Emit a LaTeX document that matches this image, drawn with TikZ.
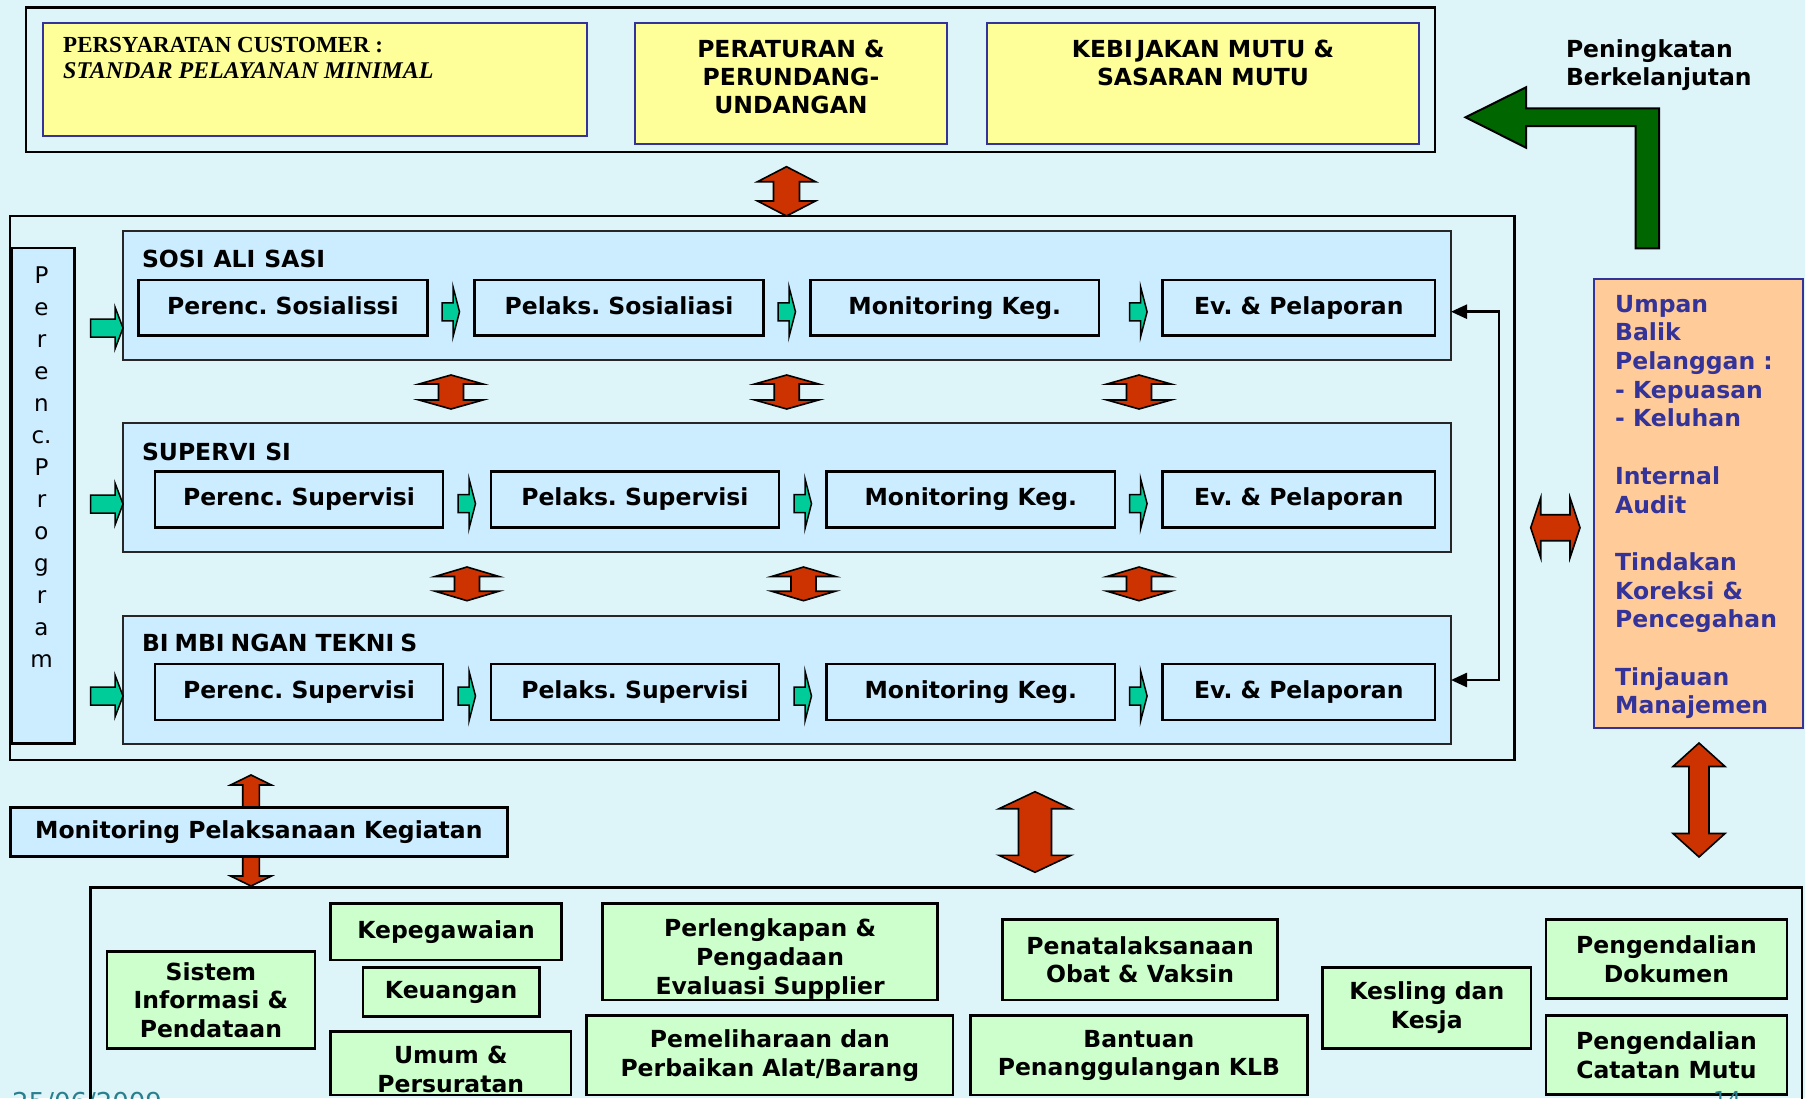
\documentclass[tikz,border=0pt]{standalone}
\usepackage{fontspec}
\setmainfont{DejaVu Sans}
\newfontfamily\serifb{Liberation Serif}
\usetikzlibrary{arrows.meta}
\frenchspacing
\definecolor{bgc}{HTML}{DDF4F8}
\definecolor{panelc}{HTML}{CCECFF}
\definecolor{yelc}{HTML}{FFFF99}
\definecolor{bluec}{HTML}{333399}
\definecolor{greenc}{HTML}{CCFFCC}
\definecolor{orangec}{HTML}{FFCC99}
\definecolor{redc}{HTML}{CC3300}
\definecolor{tealc}{HTML}{00CC99}
\definecolor{dgreen}{HTML}{006600}
\definecolor{datec}{HTML}{2A7F8E}
\newcommand\fs{\fontsize{23.5}{28.7}\selectfont}
\newcommand\bx[7]{\node[#1, minimum width={#5-#3}, minimum height={#6-#4}, anchor=north west] (#2) at (#3,#4) {#7};}
\newcommand\vda[6]{\draw[redarr] (#1,#2) -- ({#1+#4},{#2+#6}) -- ({#1+#5},{#2+#6}) -- ({#1+#5},{#3-#6}) -- ({#1+#4},{#3-#6}) -- (#1,#3) -- ({#1-#4},{#3-#6}) -- ({#1-#5},{#3-#6}) -- ({#1-#5},{#2+#6}) -- ({#1-#4},{#2+#6}) -- cycle;}
\newcommand\hda[6]{\draw[redarr] (#2,#1) -- ({#2+#6},{#1-#4}) -- ({#2+#6},{#1-#5}) -- ({#3-#6},{#1-#5}) -- ({#3-#6},{#1-#4}) -- (#3,#1) -- ({#3-#6},{#1+#4}) -- ({#3-#6},{#1+#5}) -- ({#2+#6},{#1+#5}) -- ({#2+#6},{#1+#4}) -- cycle;}
\newcommand\sma[2]{\draw[tealarr] (#1,{#2-9}) -- ({#1+11},{#2-9}) -- ({#1+11},{#2-25}) -- ({#1+17.5},#2) -- ({#1+11},{#2+25}) -- ({#1+11},{#2+9}) -- (#1,{#2+9}) -- cycle;}
\newcommand\ena[1]{\draw[tealarr] (90.7,{#1-9}) -- (115,{#1-9}) -- (115,{#1-21}) -- (123,#1) -- (115,{#1+21}) -- (115,{#1+9}) -- (90.7,{#1+9}) -- cycle;}
\begin{document}
\begin{tikzpicture}[x=1pt,y=-1pt,
  outerbox/.style={draw=black, line width=2.5pt, inner sep=0pt, outer sep=0pt},
  ybox/.style={outerbox, fill=yelc, draw=bluec, line width=2pt},
  panel/.style={outerbox, fill=panelc, line width=2pt, draw=black!85},
  progbox/.style={outerbox, fill=panelc},
  sbox/.style={outerbox, fill=panelc, font=\fs\bfseries, text height=17.9pt, text depth=5.5pt},
  gbox/.style={outerbox, fill=greenc, font=\fs\bfseries, align=center},
  gbox1/.style={gbox, text height=17.9pt, text depth=5.5pt},
  obox/.style={outerbox, fill=orangec, draw=bluec, line width=2pt},
  txt/.style={inner sep=0pt, outer sep=0pt, font=\fs\bfseries, align=center},
  redarr/.style={fill=redc, draw=black, line width=1.6pt, line join=miter},
  tealarr/.style={fill=tealc, draw=black, line width=1.5pt, line join=miter},
  fbline/.style={draw=black, line width=2.5pt, {Triangle[length=16pt,width=14pt]}-{Triangle[length=16pt,width=14pt]}}
]
\fill[bgc] (0,0) rectangle (1805,1098);
\useasboundingbox (0,0) rectangle (1805,1098);

% ---------- top section ----------
\bx{outerbox}{topbox}{26}{7.5}{1435}{152}{}
\bx{ybox}{cust}{42.5}{23.3}{587}{136.3}{}
\node[anchor=north west, inner sep=0pt, align=left, font=\serifb\bfseries\fontsize{23}{26}\selectfont] (custt) at (63,37.5) {PERSYARATAN CUSTOMER :\\\fontsize{24}{26}\selectfont\itshape STANDAR PELAYANAN MINIMAL};
\bx{ybox}{perat}{635}{23.3}{947}{144.3}{}
\node[txt, anchor=north, font=\fontsize{23.5}{28}\selectfont\bfseries] (peratt) at (791,40.5) {PERATURAN \&\\PERUNDANG-\\UNDANGAN};
\bx{ybox}{kebij}{986.6}{23.3}{1419}{144.3}{}
\node[txt, anchor=north, font=\fontsize{23.5}{28}\selectfont\bfseries] (kebijt) at (1203,40.5) {KEBI\kern4pt JAKAN MUTU \&\\SASARAN MUTU};
\node[txt, anchor=north west, align=left, font=\fontsize{23.5}{28}\selectfont\bfseries] (pening) at (1566,40) {Peningkatan\\Berkelanjutan};
\draw[fill=dgreen, draw=black, line width=2pt, line join=miter] (1465.5,117.3) -- (1526,87.3) -- (1526,108.3) -- (1659,108.3) -- (1659,248.3) -- (1635.6,248.3) -- (1635.6,126) -- (1526,126) -- (1526,147.7) -- cycle;
\vda{786.5}{166.7}{216}{29}{13}{15}

% ---------- middle section ----------
\bx{outerbox}{midbox}{10}{216}{1514.5}{760}{}
\bx{progbox}{prog}{11.5}{248}{74.6}{743.3}{}
\node[anchor=north, inner sep=0pt, align=center, font=\fontsize{23}{32}\selectfont] (progt) at (41.5,266.5) {P\\e\\r\\e\\n\\c.\\P\\r\\o\\g\\r\\a\\m};

\bx{panel}{sos}{123}{231}{1451}{360}{}
\bx{panel}{sup}{123}{423.3}{1451}{552.3}{}
\bx{panel}{bim}{123}{615.7}{1451}{744.3}{}
\node[txt, anchor=base west] (sost) at (142,267.3) {SOSI\kern9pt ALI\kern9pt SASI\kern4pt};
\node[txt, anchor=base west] (supt) at (142,460) {SUPERVI\kern9pt SI};
\node[txt, anchor=base west] (bimt) at (142,651.7) {BI\kern6pt MBI\kern6pt NGAN TEKNI\kern6pt S};

\bx{sbox}{s1}{138.5}{280}{427.5}{335.7}{Perenc. Sosialissi}
\bx{sbox}{s2}{474.7}{280}{763.4}{335.7}{Pelaks. Sosialiasi}
\bx{sbox}{s3}{810.5}{280}{1099}{335.7}{Monitoring Keg.}
\bx{sbox}{s4}{1162.5}{280}{1435}{335.7}{Ev. \& Pelaporan}

\bx{sbox}{p1}{155}{471.7}{443}{527.3}{Perenc. Supervisi}
\bx{sbox}{p2}{490.8}{471.7}{779}{527.3}{Pelaks. Supervisi}
\bx{sbox}{p3}{826.6}{471.7}{1115}{527.3}{Monitoring Keg.}
\bx{sbox}{p4}{1162.5}{471.7}{1435}{527.3}{Ev. \& Pelaporan}

\bx{sbox}{b1}{155}{664}{443}{720}{Perenc. Supervisi}
\bx{sbox}{b2}{490.8}{664}{779}{720}{Pelaks. Supervisi}
\bx{sbox}{b3}{826.6}{664}{1115}{720}{Monitoring Keg.}
\bx{sbox}{b4}{1162.5}{664}{1435}{720}{Ev. \& Pelaporan}

\ena{328}
\ena{504}
\ena{696}
\sma{442}{311.8}
\sma{778}{311.8}
\sma{1129.6}{311.8}
\sma{458}{503.7}
\sma{794}{503.7}
\sma{1129.6}{503.7}
\sma{458}{696}
\sma{794}{696}
\sma{1129.6}{696}

\vda{451}{375}{409}{32}{12.5}{9}
\vda{786.7}{375}{409}{32}{12.5}{9}
\vda{1139}{375}{409}{32}{12.5}{9}
\vda{467}{567}{600.7}{32}{12.5}{9.5}
\vda{803.5}{567}{600.7}{32}{12.5}{9.5}
\vda{1139}{567}{600.7}{32}{12.5}{9.5}

\coordinate (fbtop) at (1499,311.7);
\coordinate (fbbot) at (1499,680);
\draw[fbline] (sos.east |- fbtop) -- (fbtop) -- (fbbot) -- (bim.east |- fbbot);

% ---------- right column ----------
\bx{obox}{umpan}{1594.3}{279.3}{1803}{728.3}{}
\node[anchor=north west, inner sep=0pt, align=left, text=bluec, font=\fs\bfseries] (umpant) at (1615,294.8) {Umpan\\Balik\\Pelanggan :\\- Kepuasan\\- Keluhan\\\mbox{}\\Internal\\Audit\\\mbox{}\\Tindakan\\Koreksi \&\\Pencegahan\\\mbox{}\\Tinjauan\\Manajemen};
\hda{527.7}{1530.7}{1580}{30}{13}{10}
\vda{1699}{743}{857}{26}{10}{23.5}

% ---------- bottom section ----------
\vda{251}{775}{886}{20.5}{8.3}{10}
\bx{sbox}{mon}{10.3}{807.7}{507.4}{856.7}{Monitoring Pelaksanaan Kegiatan}
\vda{1035}{791.7}{872.3}{36}{16.5}{17}

\bx{outerbox}{botbox}{90.7}{887.7}{1802}{1130}{}
\bx{gbox}{sis}{106.8}{951.7}{315}{1048.3}{Sistem\\Informasi \&\\Pendataan}
\bx{gbox1}{kep}{330.6}{903.7}{561.4}{960}{Kepegawaian}
\bx{gbox1}{keu}{362.8}{967.3}{539.6}{1016.7}{Keuangan}
\bx{gbox}{umum}{330.6}{1031.3}{571}{1095}{}
\node[txt, anchor=north] (umumt) at (450.8,1046.1) {Umum \&\\Persuratan};
\bx{gbox}{perl}{602.7}{903.7}{937.5}{1000}{}
\node[txt, anchor=north] (perlt) at (770.1,918.8) {Perlengkapan \&\\Pengadaan\\Evaluasi Supplier};
\bx{gbox}{pem}{586.6}{1015.7}{953}{1095}{Pemeliharaan dan\\Perbaikan Alat/Barang}
\bx{gbox}{pen}{1002.7}{919.3}{1277.4}{1000}{Penatalaksanaan\\Obat \& Vaksin}
\bx{gbox}{ban}{970.4}{1015.7}{1307.4}{1095}{Bantuan\\Penanggulangan KLB}
\bx{gbox}{kes}{1322.4}{967.3}{1531.2}{1048.3}{Kesling dan\\Kesja}
\bx{gbox}{dok}{1546.2}{919.3}{1786.8}{998.7}{Pengendalian\\Dokumen}
\bx{gbox}{cat}{1546.2}{1015.7}{1786.8}{1094.3}{Pengendalian\\Catatan Mutu}

\node[anchor=base west, inner sep=0pt, text=datec, font=\fontsize{26}{30}\selectfont] (date) at (12,1111) {25/06/2009};
\node[anchor=base west, inner sep=0pt, text=datec, font=\fontsize{22}{26}\selectfont] (pgno) at (1713,1107.7) {14};
\end{tikzpicture}
\end{document}
